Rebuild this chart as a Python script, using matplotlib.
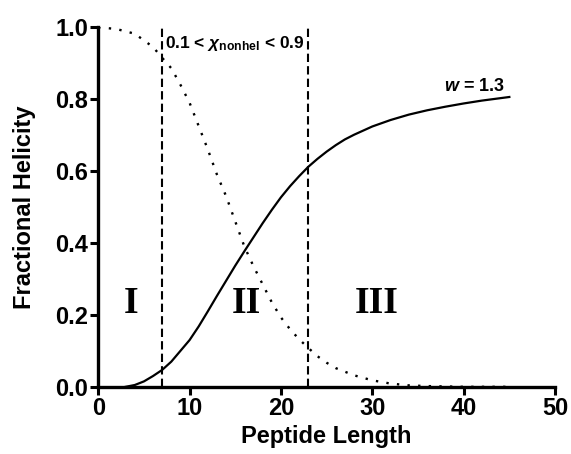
#Fractional helicity vs peptide length
import numpy as np #numpy for arrays
import matplotlib
matplotlib.use("Agg")
import matplotlib.pyplot as plt #matplotlib for the graph

plt.rcParams['font.family'] = ['Liberation Sans', 'DejaVu Sans']
plt.rcParams['font.weight'] = 'bold'
plt.rcParams['axes.labelweight'] = 'bold'
plt.rcParams['mathtext.fontset'] = 'custom'
plt.rcParams['mathtext.rm'] = 'Liberation Sans:bold'
plt.rcParams['mathtext.bf'] = 'Liberation Sans:bold'
plt.rcParams['mathtext.it'] = 'Liberation Sans:bold:italic'

#helical fraction (solid line), w = 1.3
helix_x = [3, 4, 5, 6, 7, 8, 9, 10, 11, 12, 13, 14, 15, 16, 17, 18, 19, 20, 21, 22,
           23, 24, 25, 26, 27, 28, 30, 32, 34, 36, 38, 40, 42, 45]
helix_y = [0.0, 0.005, 0.015, 0.03, 0.047, 0.07, 0.1, 0.13, 0.168, 0.21, 0.253, 0.295,
           0.337, 0.377, 0.416, 0.455, 0.492, 0.527, 0.558, 0.586, 0.612, 0.634, 0.654,
           0.672, 0.688, 0.701, 0.724, 0.742, 0.757, 0.769, 0.779, 0.788, 0.796, 0.806]

#non-helical fraction (dotted line)
nonhel_x = [0, 2, 4, 6, 7, 8, 9, 10, 11, 12, 13, 14, 15, 16, 17, 18, 19, 20, 21, 22,
            23, 24, 25, 26, 28, 30, 32, 34, 36, 40, 45]
nonhel_y = [1.0, 0.995, 0.982, 0.945, 0.915, 0.886, 0.84, 0.79, 0.725, 0.66, 0.59, 0.53,
            0.46, 0.39, 0.335, 0.285, 0.235, 0.193, 0.16, 0.132, 0.108, 0.085, 0.067,
            0.052, 0.032, 0.018, 0.009, 0.004, 0.002, 0.0, 0.0]

#region borders (0.9 and 0.1 of the non-helical fraction)
borders = [7, 23]
regions = ["I", "II", "III"]
region_x = [3.6, 16.2, 30.5]

xticks = [0, 10, 20, 30, 40, 50]
yticks = [0.0, 0.2, 0.4, 0.6, 0.8, 1.0]

fig = plt.figure(figsize=(5.71, 4.54), dpi=100)
ax = fig.add_axes([0.172, 0.148, 0.8, 0.792])

ax.plot(helix_x, helix_y, color='black', lw=1.6) #solid curve
ax.plot(nonhel_x, nonhel_y, color='black', lw=1.7, linestyle=(0, (1, 3.5)), dash_capstyle='butt') #dotted curve
for b in borders:
    ax.plot([b, b], [0, 1.0], color='black', lw=1.5, linestyle=(0, (4, 2))) #dashed borders

for name, rx in zip(regions, region_x):
    ax.text(rx, 0.233, name, ha='center', va='center', fontsize=27,
            family=['Liberation Serif', 'DejaVu Serif'], fontweight='bold')

ax.text(7.3, 0.955, r'0.1 < $\chi_{\mathbf{nonhel}}$ < 0.9', ha='left', va='center', fontsize=12.5)
ax.text(41.2, 0.835, r'$w$ = 1.3', ha='center', va='center', fontsize=13)

ax.set_xlim(0, 50)
ax.set_ylim(0, 1.0)
ax.set_xticks(xticks)
ax.set_yticks(yticks)
ax.set_yticklabels(["%.1f" % v for v in yticks])
ax.tick_params(labelsize=17, width=2.2, length=6, direction='out', pad=1)
for side in ['top', 'right']:
    ax.spines[side].set_visible(False) #no top/right frame
for side in ['left', 'bottom']:
    ax.spines[side].set_linewidth(2.4)

ax.set_xlabel("Peptide Length", fontsize=17, fontweight='bold', labelpad=4)
ax.set_ylabel("Fractional Helicity", fontsize=17, fontweight='bold', labelpad=14)

fig.savefig("out.png", dpi=100)
